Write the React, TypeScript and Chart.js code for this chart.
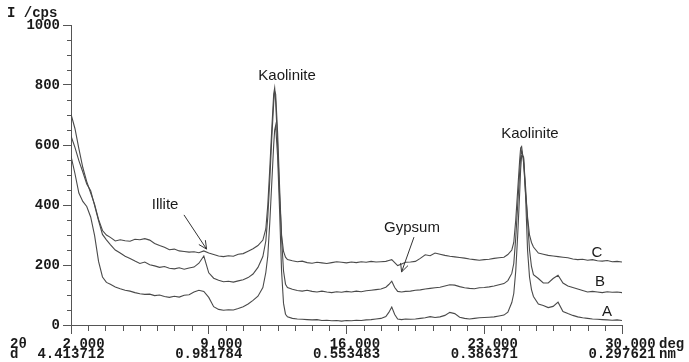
import React, { useEffect, useRef } from 'react';
import { Chart, registerables } from 'chart.js';

Chart.register(...registerables);

// 2θ positions (deg)
const twoTheta = [
  2.0, 2.2, 2.4, 2.6, 2.8, 3.0, 3.2, 3.4, 3.6, 3.8,
  4.0, 4.25, 4.5, 4.75, 5.0, 5.25, 5.5, 5.75, 6.0, 6.25,
  6.5, 6.75, 7.0, 7.25, 7.5, 7.75, 8.0, 8.25, 8.5, 8.75,
  9.0, 9.25, 9.5, 9.75, 10.0, 10.25, 10.5, 10.75, 11.0, 11.25,
  11.5, 11.75, 11.9, 12.0, 12.1, 12.2, 12.3, 12.35, 12.4, 12.5,
  12.6, 12.7, 12.8, 12.9, 13.0, 13.25, 13.5, 13.75, 14.0, 14.25,
  14.5, 14.75, 15.0, 15.25, 15.5, 15.75, 16.0, 16.25, 16.5, 16.75,
  17.0, 17.25, 17.5, 17.75, 18.0, 18.15, 18.3, 18.45, 18.6, 18.8,
  19.0, 19.25, 19.5, 19.75, 20.0, 20.25, 20.5, 20.75, 21.0, 21.25,
  21.5, 21.75, 22.0, 22.25, 22.5, 22.75, 23.0, 23.25, 23.5, 23.75,
  24.0, 24.2, 24.4, 24.5, 24.6, 24.7, 24.8, 24.85, 24.9, 25.0,
  25.1, 25.2, 25.3, 25.4, 25.5, 25.75, 26.0, 26.25, 26.5, 26.75,
  27.0, 27.25, 27.5, 27.75, 28.0, 28.25, 28.5, 28.75, 29.0, 29.25,
  29.5, 29.75, 30.0,
];

// Intensity (cps) of sample C
const seriesC = [
  703, 655, 588, 525, 478, 440, 402, 352, 315, 300,
  292, 280, 284, 281, 279, 286, 284, 288, 283, 272,
  265, 259, 251, 253, 247, 245, 243, 244, 241, 247,
  240, 235, 230, 228, 231, 229, 236, 238, 246, 254,
  265, 283, 320, 400, 520, 650, 770, 790, 745, 600,
  430, 300, 245, 226, 218, 214, 211, 213, 208, 206,
  209, 207, 205, 208, 211, 209, 207, 210, 208, 211,
  209, 212, 210, 211, 212, 215, 218, 208, 198, 203,
  209, 210, 212, 222, 234, 231, 240, 236, 232, 229,
  227, 225, 223, 220, 218, 216, 218, 219, 222, 224,
  226, 235, 250, 275, 350, 450, 550, 590, 595, 540,
  440, 360, 300, 275, 260, 240, 236, 232, 230, 228,
  226, 224, 220, 218, 219, 216, 218, 214, 213, 215,
  211, 212, 210,
];

// Intensity (cps) of sample B
const seriesB = [
  630, 592, 548, 510, 470, 448, 398, 348, 302, 284,
  268, 250, 240, 229, 222, 213, 205, 210, 201, 197,
  192, 195, 189, 187, 191, 186, 190, 193, 206, 230,
  174, 156, 149, 144, 146, 143, 147, 151, 158, 170,
  192, 228, 280, 360, 480, 620, 740, 780, 770, 640,
  460, 290, 180, 136, 125, 119, 115, 113, 116, 112,
  110, 113, 110, 108, 111, 109, 112, 110, 113, 111,
  114, 116, 118, 120, 126, 135, 146, 125, 112, 110,
  112, 113, 116, 117, 120, 122, 124, 126, 130, 134,
  133, 128, 124, 122, 121, 124, 125, 127, 130, 134,
  138, 148, 172, 205, 290, 400, 510, 560, 580, 555,
  460, 350, 250, 195, 168, 155, 140, 140, 155, 166,
  140, 130, 125, 120, 115, 110, 112, 110, 108, 111,
  109, 110, 108,
];

// Intensity (cps) of sample A
const seriesA = [
  563, 505, 440, 412, 395, 360, 298, 212, 160, 142,
  136, 127, 121, 116, 113, 108, 104, 102, 103, 98,
  100, 95, 92, 96, 93, 99, 101, 110, 116, 112,
  92, 61, 52, 49, 51, 50, 55, 61, 70, 82,
  96, 125, 175, 230, 340, 470, 600, 650, 665, 560,
  380, 180, 72, 36, 27, 22, 20, 19, 18, 17,
  18, 15, 16, 14, 15, 13, 15, 14, 16, 15,
  17, 18, 20, 22, 28, 42, 60, 35, 20, 18,
  20, 19, 20, 22, 24, 28, 25, 27, 32, 42,
  38, 26, 22, 20, 22, 24, 25, 26, 27, 30,
  33, 43, 75, 105, 180, 300, 440, 520, 565, 560,
  430, 250, 160, 118, 95, 70, 65, 58, 62, 76,
  45, 38, 32, 27, 24, 22, 20, 19, 18, 17,
  16, 17, 15,
];

// Axis ticks and labels
const xMajorTicks = [2, 9, 16, 23, 30];
const xTwoThetaLabels = ['2.000', '9.000', '16.000', '23.000', '30.000'];
const xDLabels = ['4.413712', '0.981784', '0.553483', '0.386371', '0.297621'];
const xMinorStep = 0.875;
const yMajorTicks = [0, 200, 400, 600, 800, 1000];
const yMinorStep = 50;

// Annotations (in data coordinates)
const labelTexts = ['Kaolinite', 'Kaolinite', 'Illite', 'Gypsum', 'C', 'B', 'A'];
const labelX = [12.98, 25.32, 6.78, 19.33, 28.73, 28.88, 29.24];
const labelY = [830, 637, 400, 323, 240, 143, 43];
const arrowFrom = [[7.74, 367], [19.43, 293]];
const arrowTo = [[8.89, 253], [18.8, 177]];

const LINE = '#4a4a4a';
const AXIS = '#555555';
const TEXT = '#1a1a1a';
const MONO = "'Liberation Mono', 'Courier New', monospace";
const SANS = "'Liberation Sans', Arial, sans-serif";

const pad8 = (s: string) => s.padStart(8, ' ');

export default function App() {
  const ref = useRef<HTMLCanvasElement>(null);

  useEffect(() => {
    const canvas = ref.current;
    if (!canvas) return;

    const minorTicks = {
      id: 'minorTicks',
      afterDraw(chart: any) {
        const { ctx, chartArea } = chart;
        const xs = chart.scales.x;
        const ys = chart.scales.y;
        ctx.save();
        ctx.strokeStyle = AXIS;
        ctx.lineWidth = 1;
        ctx.beginPath();
        const nx = Math.round((30 - 2) / xMinorStep);
        for (let i = 0; i <= nx; i++) {
          if (i % 8 === 0) continue;
          const px = Math.round(xs.getPixelForValue(2 + i * xMinorStep)) + 0.5;
          ctx.moveTo(px, chartArea.bottom);
          ctx.lineTo(px, chartArea.bottom + 6);
        }
        for (let v = yMinorStep; v < 1000; v += yMinorStep) {
          if (v % 200 === 0) continue;
          const py = Math.round(ys.getPixelForValue(v)) + 0.5;
          ctx.moveTo(chartArea.left - 4, py);
          ctx.lineTo(chartArea.left, py);
        }
        ctx.stroke();
        ctx.restore();
      },
    };

    const texts = {
      id: 'texts',
      afterDraw(chart: any) {
        const { ctx, chartArea } = chart;
        const xs = chart.scales.x;
        const ys = chart.scales.y;
        ctx.save();
        ctx.fillStyle = TEXT;
        ctx.textBaseline = 'middle';
        // axis captions
        ctx.font = `bold 14px ${MONO}`;
        ctx.textAlign = 'left';
        ctx.fillText('I /cps', 7, chartArea.top - 12);
        ctx.fillText('2θ', chartArea.left - 61, chartArea.bottom + 19);
        ctx.fillText('d', chartArea.left - 61, chartArea.bottom + 29);
        ctx.fillText('deg', chartArea.right + 37, chartArea.bottom + 19);
        ctx.fillText('nm', chartArea.right + 37, chartArea.bottom + 29);
        // annotations
        ctx.font = `15px ${SANS}`;
        ctx.textAlign = 'center';
        labelTexts.forEach((t, i) => {
          ctx.fillText(t, xs.getPixelForValue(labelX[i]), ys.getPixelForValue(labelY[i]));
        });
        // arrows
        ctx.strokeStyle = '#333333';
        ctx.lineWidth = 1;
        arrowFrom.forEach((f, i) => {
          const x1 = xs.getPixelForValue(f[0]);
          const y1 = ys.getPixelForValue(f[1]);
          const x2 = xs.getPixelForValue(arrowTo[i][0]);
          const y2 = ys.getPixelForValue(arrowTo[i][1]);
          const ang = Math.atan2(y2 - y1, x2 - x1);
          const h = 9;
          ctx.beginPath();
          ctx.moveTo(x1, y1);
          ctx.lineTo(x2, y2);
          ctx.moveTo(x2 - h * Math.cos(ang - 0.45), y2 - h * Math.sin(ang - 0.45));
          ctx.lineTo(x2, y2);
          ctx.lineTo(x2 - h * Math.cos(ang + 0.45), y2 - h * Math.sin(ang + 0.45));
          ctx.stroke();
        });
        ctx.restore();
      },
    };

    const monoFont = { family: MONO, size: 14, weight: 'bold' as const, lineHeight: '10px' };
    const mk = (label: string, values: number[]) => ({
      label,
      data: twoTheta.map((x, i) => ({ x, y: values[i] })),
      borderColor: LINE,
      borderWidth: 1.1,
      pointRadius: 0,
      fill: false,
      tension: 0,
    });

    const chart = new Chart(canvas, {
      type: 'line',
      data: { datasets: [mk('A', seriesA), mk('B', seriesB), mk('C', seriesC)] },
      options: {
        animation: false,
        responsive: false,
        devicePixelRatio: 1,
        layout: { padding: { top: 25, right: 67, bottom: 0, left: 0 } },
        plugins: { legend: { display: false }, tooltip: { enabled: false } },
        scales: {
          x: {
            type: 'linear',
            min: 2,
            max: 30,
            afterBuildTicks: (s: any) => {
              s.ticks = xMajorTicks.map((v) => ({ value: v }));
            },
            afterFit: (s: any) => {
              s.height = 37;
              s.paddingLeft = 0;
              s.paddingRight = 0;
            },
            ticks: {
              autoSkip: false,
              maxRotation: 0,
              minRotation: 0,
              padding: 5,
              color: TEXT,
              font: monoFont,
              callback: (v: any) => {
                const i = xMajorTicks.indexOf(Number(v));
                return i < 0 ? '' : [pad8(xTwoThetaLabels[i]), xDLabels[i]];
              },
            },
            grid: { drawOnChartArea: false, drawTicks: true, tickLength: 9, tickColor: AXIS, color: AXIS },
            border: { display: true, color: AXIS, width: 1 },
          },
          y: {
            type: 'linear',
            min: 0,
            max: 1000,
            afterBuildTicks: (s: any) => {
              s.ticks = yMajorTicks.map((v) => ({ value: v }));
            },
            afterFit: (s: any) => {
              s.width = 71;
              s.paddingTop = 0;
              s.paddingBottom = 0;
            },
            ticks: { padding: 3, color: TEXT, font: monoFont, callback: (v: any) => String(v) },
            grid: { drawOnChartArea: false, drawTicks: true, tickLength: 8, tickColor: AXIS, color: AXIS },
            border: { display: true, color: AXIS, width: 1 },
          },
        },
      },
      plugins: [minorTicks, texts],
    } as any);

    return () => chart.destroy();
  }, []);

  return (
    <div style={{ position: 'absolute', left: 0, top: 0, width: 689, height: 362, background: '#fff' }}>
      <canvas ref={ref} width={689} height={362} style={{ display: 'block' }} />
    </div>
  );
}
